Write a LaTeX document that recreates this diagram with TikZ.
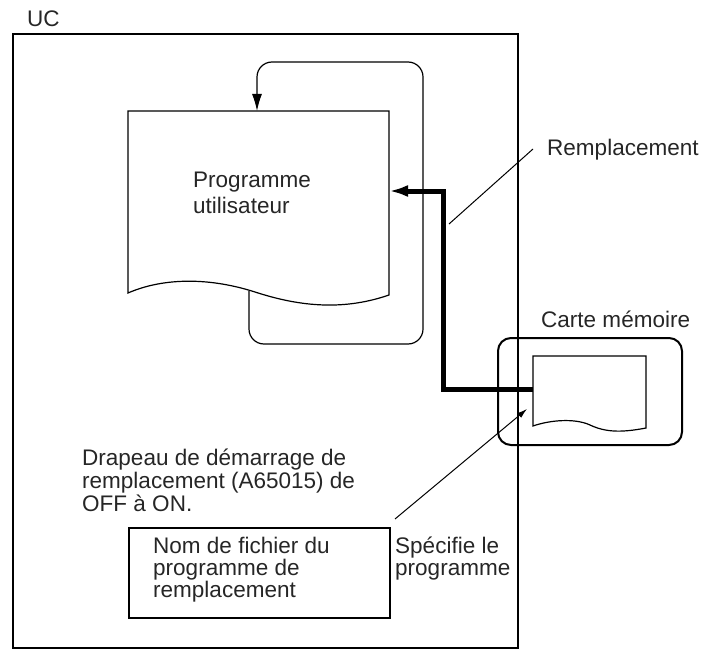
\documentclass[tikz,border=0pt]{standalone}
\usepackage{fontspec}
\setmainfont{Liberation Sans}
\usetikzlibrary{arrows.meta}
\begin{document}
\begin{tikzpicture}[x=1bp,y=-1bp,
  lbl/.style={inner sep=0pt, anchor=base west, align=left, text=black!85,
    font=\fontsize{22.6}{22.6}\selectfont},
  thinl/.style={line width=1.2bp},
  boxn/.style={draw, inner sep=0pt, anchor=north west}]
\useasboundingbox (0,0) rectangle (701,651);

% UC
\node[lbl] (uc) at (27,27) {UC};
\node[boxn, line width=2.2bp, minimum width=505bp, minimum height=614bp] (ucbox) at (12,33) {};

% user program document
\draw[thinl] (128,293) -- (128,111) -- (389,111) -- (389,295)
  .. controls (340,312) and (295,305) .. (255,292)
  .. controls (205,276) and (160,279) .. (128,293) -- cycle;
\node[lbl, font=\fontsize{22.6}{26}\selectfont] (prog) at (193,213) {Programme\\utilisateur};

% loop arrow
\coordinate (loopStart) at (249,291);
\coordinate (docTop) at (257,111);
\draw[thinl, rounded corners=15bp, -{Latex[length=17bp,width=10bp]}]
  (loopStart) -- (249,344) -- (423,344) -- (423,62) -- (257,62) -- (docTop);

% memory card
\node[boxn, line width=2bp, rounded corners=13bp, minimum width=184bp, minimum height=107bp] (card) at (497,337) {};
\node[lbl] (cardlbl) at (541,327) {Carte mémoire};
\draw[thinl] (533,426) -- (533,356) -- (646,356) -- (646,428)
  .. controls (620,433) and (605,432) .. (590,425)
  .. controls (575,418) and (550,420) .. (533,426) -- cycle;

% thick replacement arrow
\coordinate (cardIn) at (533,389);
\coordinate (docIn) at (389,191);
\draw[line width=5bp, -{Latex[length=19bp,width=12bp]}]
  (cardIn) -- (443,389) -- (443,191) -- (docIn);

% Remplacement label
\node[lbl] (rempl) at (547,155) {Remplacement};
\coordinate (remplA) at (533,149);
\coordinate (remplB) at (449,224);
\draw[line width=1bp] (remplA) -- (remplB);

% flag text
\node[lbl, font=\fontsize{22.6}{23}\selectfont] (flag) at (82,511) {Drapeau de démarrage de\\remplacement (A65015) de\\OFF à ON.};

% file name box
\node[boxn, line width=1.5bp, minimum width=261bp, minimum height=90bp] (namebox) at (128,527) {};
\node[lbl, font=\fontsize{22.6}{22}\selectfont] (nametxt) at (153,597) {Nom de fichier du\\programme de\\remplacement};

% specifies
\node[lbl, font=\fontsize{22.6}{22}\selectfont] (spec) at (395,575) {Spécifie le\\programme};
\coordinate (specStart) at (395,519);
\coordinate (specTip) at (527,409);
\draw[line width=1bp, -{Latex[length=10bp,width=6bp]}] (specStart) -- (specTip);
\end{tikzpicture}
\end{document}
